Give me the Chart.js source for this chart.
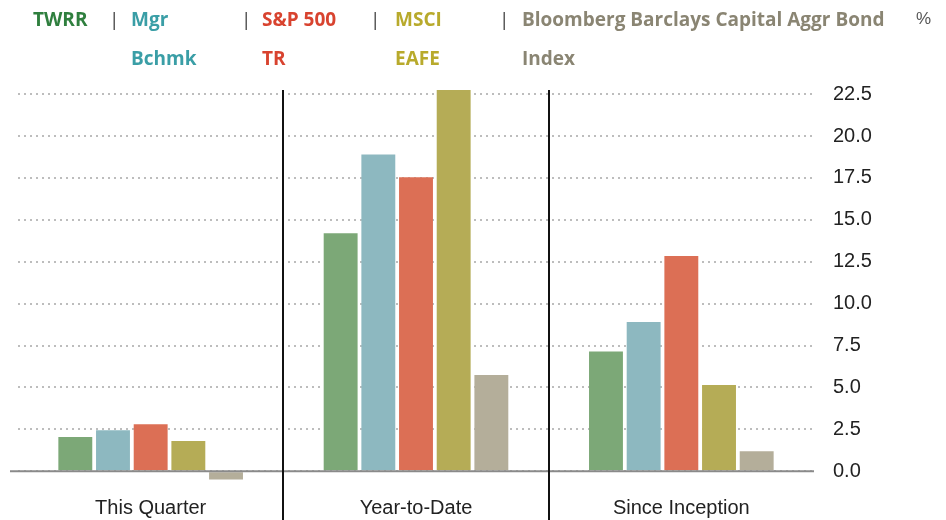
<!DOCTYPE html>
<html>
<head>
<meta charset="utf-8">
<script src="https://cdn.jsdelivr.net/npm/chart.js@4"></script>
<style>
  body { margin: 0; background: #fff; }
  #wrap { position: relative; width: 946px; height: 520px; }
  #myChart { position: absolute; left: 0; top: 0; }
  .lg { position: absolute; font-family: "Open Sans", sans-serif; font-weight: 700; font-size: 19px; line-height: 24px; white-space: nowrap; }
  .sep { position: absolute; font-family: "Open Sans", sans-serif; font-size: 19px; line-height: 24px; color: #444; }
</style>
</head>
<body>
<div id="wrap">
  <canvas id="myChart" width="946" height="520"></canvas>
  <div class="lg" style="left:33px;top:7px;color:#2f7f3e">TWRR</div>
  <div class="sep" style="left:109px;top:7px">|</div>
  <div class="lg" style="left:131px;top:7px;color:#3a9ea6">Mgr</div>
  <div class="lg" style="left:131px;top:46px;color:#3a9ea6">Bchmk</div>
  <div class="sep" style="left:241px;top:7px">|</div>
  <div class="lg" style="left:262px;top:7px;color:#d8432f">S&amp;P 500</div>
  <div class="lg" style="left:262px;top:46px;color:#d8432f">TR</div>
  <div class="sep" style="left:370px;top:7px">|</div>
  <div class="lg" style="left:395px;top:7px;color:#b8aa2c">MSCI</div>
  <div class="lg" style="left:395px;top:46px;color:#b8aa2c">EAFE</div>
  <div class="sep" style="left:499px;top:7px">|</div>
  <div class="lg" style="left:522px;top:7px;color:#8a8573">Bloomberg Barclays Capital Aggr Bond</div>
  <div class="lg" style="left:522px;top:46px;color:#8a8573">Index</div>
  <div style="position:absolute;left:916px;top:9px;font-family:'Liberation Sans',sans-serif;font-size:17px;line-height:20px;color:#555">%</div>
</div>
<script>
// categories and series values
const categories = ['This Quarter', 'Year-to-Date', 'Since Inception'];
const twrr = [2.05, 14.2, 7.15];
const mgrBchmk = [2.45, 18.9, 8.9];
const sp500Tr = [2.8, 17.55, 12.85];
const msciEafe = [1.8, 22.75, 5.15];
const aggBondIndex = [-0.5, 5.75, 1.2];
const tickValues = [0, 2.5, 5, 7.5, 10, 12.5, 15, 17.5, 20, 22.5];

const data = {
    labels: categories,
    datasets: [
        { label: 'TWRR', data: twrr, backgroundColor: '#7ca877' },
        { label: 'Mgr Bchmk', data: mgrBchmk, backgroundColor: '#8db8c0' },
        { label: 'S&P 500 TR', data: sp500Tr, backgroundColor: '#dc6f55' },
        { label: 'MSCI EAFE', data: msciEafe, backgroundColor: '#b5ac56' },
        { label: 'Bloomberg Barclays Capital Aggr Bond Index', data: aggBondIndex, backgroundColor: '#b4ae9a' }
    ]
};

// zero line and the black separators between categories
const extras = {
    id: 'extras',
    afterDatasetsDraw(chart) {
        const ctx = chart.ctx;
        const area = chart.chartArea;
        const x = chart.scales.x;
        const y = chart.scales.y;
        ctx.save();
        const y0 = y.getPixelForValue(0);
        ctx.strokeStyle = '#8a8a8a';
        ctx.lineWidth = 2;
        ctx.beginPath();
        ctx.moveTo(area.left - 8, y0);
        ctx.lineTo(area.right, y0);
        ctx.stroke();
        ctx.strokeStyle = '#111';
        ctx.lineWidth = 2;
        for (let i = 0; i < categories.length - 1; i++) {
            const sx = Math.round((x.getPixelForValue(i) + x.getPixelForValue(i + 1)) / 2);
            ctx.beginPath();
            ctx.moveTo(sx, area.top);
            ctx.lineTo(sx, chart.height);
            ctx.stroke();
        }
        ctx.restore();
    }
};

const config = {
    type: 'bar',
    data: data,
    options: {
        responsive: false,
        animation: false,
        layout: { padding: { left: 18, right: 0, top: 90, bottom: 0 } },
        datasets: { bar: { barPercentage: 0.9, categoryPercentage: 0.71 } },
        plugins: {
            legend: { display: false },
            tooltip: { enabled: false }
        },
        scales: {
            x: {
                afterFit(scale) { scale.height = 32; },
                grid: { display: false },
                border: { display: false },
                ticks: { color: '#222', padding: 0, font: { family: 'Liberation Sans', size: 20 } }
            },
            y: {
                position: 'right',
                min: -1,
                max: 22.75,
                afterFit(scale) { scale.width = 132; },
                afterBuildTicks(scale) { scale.ticks = tickValues.map(v => ({ value: v })); },
                grid: { color: '#bdbdbd', lineWidth: 2, drawTicks: false },
                border: { display: false, dash: [2, 4] },
                ticks: {
                    color: '#222',
                    padding: 19,
                    font: { family: 'Liberation Sans', size: 20 },
                    callback: v => v.toFixed(1)
                }
            }
        }
    },
    plugins: [extras]
};

const myChart = new Chart(document.getElementById('myChart'), config);
</script>
</body>
</html>
